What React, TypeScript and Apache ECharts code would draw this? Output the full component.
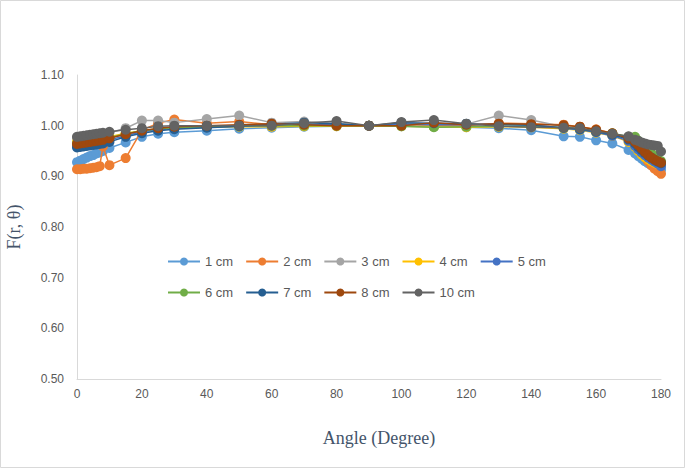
import React, { useEffect, useRef } from "react";
import * as echarts from "echarts";

const angles = [0,1,2,3,4,5,6,7,8,10,15,20,25,30,40,50,60,70,80,90,100,110,120,130,140,150,155,160,165,170,172,173,174,175,176,177,178,179,180];

const seriesNames = ["1 cm","2 cm","3 cm","4 cm","5 cm","6 cm","7 cm","8 cm","10 cm"];
const seriesColors = ["#5B9BD5","#ED7D31","#A5A5A5","#FFC000","#4472C4","#70AD47","#255E91","#9E480E","#636363"];

const f1cm = [0.928,0.931,0.934,0.937,0.940,0.942,0.945,0.947,0.950,0.956,0.967,0.978,0.984,0.987,0.990,0.994,0.996,0.998,0.999,1.000,0.999,0.998,0.997,0.995,0.991,0.979,0.978,0.971,0.965,0.952,0.945,0.940,0.935,0.930,0.926,0.922,0.918,0.915,0.913];
const f2cm = [0.914,0.914,0.915,0.915,0.916,0.917,0.918,0.920,0.959,0.922,0.936,0.991,1.005,1.012,1.005,1.008,1.002,1.000,1.001,1.000,1.002,1.001,1.000,1.005,1.004,1.002,0.998,0.993,0.985,0.975,0.962,0.955,0.945,0.938,0.930,0.922,0.915,0.910,0.905];
const f3cm = [0.975,0.976,0.977,0.978,0.979,0.980,0.981,0.982,0.983,0.986,0.995,1.010,1.010,1.006,1.013,1.020,1.006,1.008,1.005,1.000,1.005,1.004,1.003,1.020,1.011,0.998,0.995,0.990,0.982,0.975,0.962,0.955,0.950,0.945,0.941,0.937,0.933,0.930,0.927];
const f4cm = [0.968,0.969,0.970,0.971,0.972,0.973,0.974,0.975,0.976,0.978,0.985,0.990,0.993,0.995,0.997,0.998,0.998,0.999,0.999,1.000,0.999,0.998,0.997,0.998,0.997,0.994,0.991,0.986,0.980,0.968,0.958,0.950,0.943,0.938,0.934,0.930,0.927,0.924,0.922];
const f5cm = [0.960,0.961,0.962,0.963,0.964,0.965,0.966,0.967,0.968,0.972,0.980,0.988,0.992,0.995,0.997,0.999,1.001,1.002,1.002,1.000,1.003,1.002,1.002,1.003,1.002,0.995,0.992,0.987,0.980,0.970,0.960,0.953,0.947,0.942,0.937,0.933,0.929,0.925,0.920];
const f6cm = [0.965,0.966,0.967,0.968,0.969,0.970,0.971,0.972,0.973,0.976,0.984,0.990,0.994,0.996,0.998,0.999,1.000,1.000,1.000,1.000,0.999,0.997,0.998,0.999,0.999,0.996,0.994,0.990,0.985,0.978,0.978,0.970,0.962,0.955,0.950,0.945,0.940,0.935,0.930];
const f7cm = [0.957,0.958,0.959,0.960,0.961,0.962,0.963,0.964,0.965,0.968,0.978,0.985,0.990,0.993,0.996,0.999,1.003,1.006,1.004,1.000,1.006,1.005,1.004,1.002,1.001,0.996,0.993,0.988,0.982,0.973,0.965,0.958,0.952,0.946,0.941,0.937,0.933,0.929,0.926];
const f8cm = [0.964,0.965,0.966,0.967,0.968,0.969,0.970,0.971,0.972,0.975,0.983,0.990,0.995,0.998,1.000,1.002,1.004,1.002,1.000,1.000,1.000,1.006,1.002,1.004,1.003,1.001,0.998,0.992,0.985,0.975,0.968,0.962,0.955,0.948,0.942,0.937,0.933,0.930,0.927];
const f10cm = [0.978,0.979,0.980,0.981,0.982,0.983,0.984,0.985,0.986,0.988,0.992,0.995,0.999,1.000,1.000,1.000,1.000,1.005,1.009,1.000,1.007,1.011,1.004,0.999,0.997,0.996,0.995,0.989,0.984,0.979,0.972,0.970,0.967,0.965,0.963,0.962,0.961,0.960,0.949];

const seriesValues = [f1cm, f2cm, f3cm, f4cm, f5cm, f6cm, f7cm, f8cm, f10cm];

const xTicks = { min: 0, max: 180, interval: 20 };
const yTicks = { min: 0.5, max: 1.1, interval: 0.1 };

export default function App() {
  const ref = useRef<HTMLDivElement>(null);
  useEffect(() => {
    document.body.style.margin = "0";
    const chart = echarts.init(ref.current!, null, { renderer: "svg" });
    const series = seriesNames.map((name, i) => ({
      name,
      type: "line",
      data: angles.map((a, j) => [a, seriesValues[i][j]]),
      symbol: "circle",
      symbolSize: 10,
      showSymbol: true,
      lineStyle: { width: 1.5, color: seriesColors[i] },
      itemStyle: { color: seriesColors[i] },
      z: 2 + i,
    }));
    const legendCommon = {
      orient: "horizontal",
      left: 162,
      itemWidth: 32,
      itemHeight: 10,
      itemGap: 12,
      textStyle: { color: "#595959", fontSize: 13, fontFamily: "Liberation Sans, Arial, sans-serif" },
      selectedMode: false,
    };
    chart.setOption({
      animation: false,
      backgroundColor: "#ffffff",
      color: seriesColors,
      grid: { left: 77, right: 24, top: 75, bottom: 89, containLabel: false },
      legend: [
        { ...legendCommon, top: 250, data: seriesNames.slice(0, 5) },
        { ...legendCommon, top: 281, data: seriesNames.slice(5) },
      ],
      xAxis: {
        type: "value",
        min: xTicks.min,
        max: xTicks.max,
        interval: xTicks.interval,
        axisLine: { show: true, lineStyle: { color: "#D9D9D9", width: 1 } },
        axisTick: { show: false },
        splitLine: { show: false },
        axisLabel: { color: "#595959", fontSize: 12, margin: 9, fontFamily: "Liberation Sans, Arial, sans-serif" },
      },
      yAxis: {
        type: "value",
        min: yTicks.min,
        max: yTicks.max,
        interval: yTicks.interval,
        axisLine: { show: true, lineStyle: { color: "#D9D9D9", width: 1 } },
        axisTick: { show: false },
        splitLine: { show: false },
        axisLabel: {
          color: "#595959",
          fontSize: 12,
          margin: 13,
          fontFamily: "Liberation Sans, Arial, sans-serif",
          formatter: (v: number) => v.toFixed(2),
        },
      },
      graphic: [
        {
          type: "rect",
          shape: { x: 0.5, y: 0.5, width: 684, height: 467 },
          style: { fill: "none", stroke: "#D9D9D9", lineWidth: 1 },
          silent: true,
        },
        {
          type: "text",
          x: 379,
          y: 438,
          style: {
            text: "Angle (Degree)",
            fill: "#44546A",
            font: "18px 'Liberation Serif', 'Times New Roman', serif",
            align: "center",
            verticalAlign: "middle",
          },
        },
        {
          type: "text",
          x: 14,
          y: 227,
          rotation: Math.PI / 2,
          style: {
            text: "F(r, θ)",
            fill: "#44546A",
            font: "18px 'Liberation Serif', 'Times New Roman', serif",
            align: "center",
            verticalAlign: "middle",
          },
        },
      ],
      series,
    });
    return () => chart.dispose();
  }, []);
  return <div ref={ref} style={{ width: 685, height: 468 }} />;
}
